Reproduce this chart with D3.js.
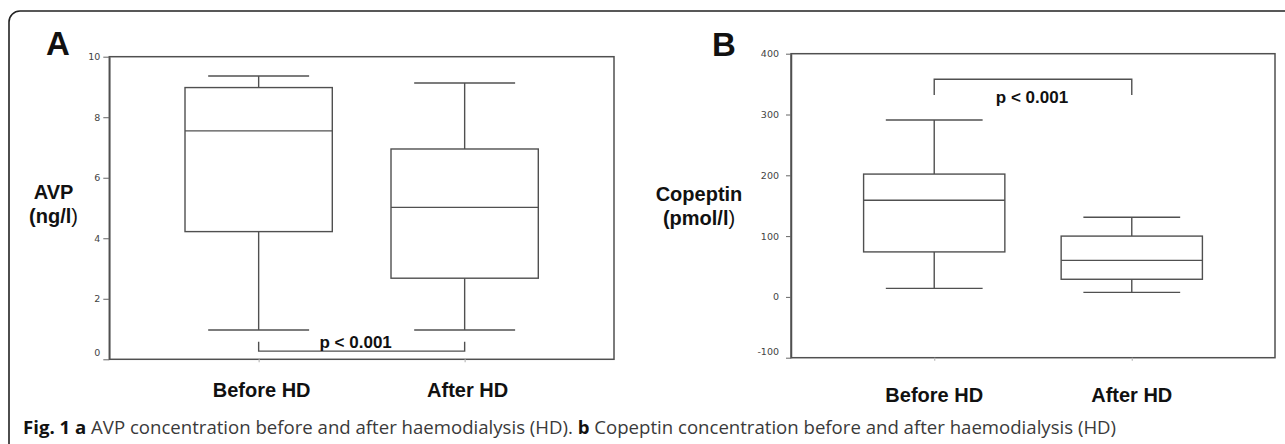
<!DOCTYPE html>
<html><head><meta charset="utf-8">
<script src="https://cdn.jsdelivr.net/npm/d3@7/dist/d3.min.js"></script>
<style>
html,body{margin:0;padding:0;background:#fff;}
svg{display:block;}
</style></head>
<body>
<svg id="chart" width="1285" height="444"></svg>
<script>
// ---- data ----
const categories = ["Before HD", "After HD"];
// Panel A: AVP (ng/l)
const avpMin    = [0.97, 0.97];
const avpQ1     = [4.22, 2.68];
const avpMedian = [7.55, 5.02];
const avpQ3     = [8.98, 6.95];
const avpMax    = [9.36, 9.13];
const avpTicks  = [0, 2, 4, 6, 8, 10];
const avpDomain = [0, 10];
const avpBracket = [0.58, 0.27];   // [tick end, bar level]
// Panel B: Copeptin (pmol/l)
const copMin    = [14, 7.5];
const copQ1     = [74, 29];
const copMedian = [159, 60];
const copQ3     = [202, 100];
const copMax    = [291, 131];
const copTicks  = [-100, 0, 100, 200, 300, 400];
const copDomain = [-100, 400];
const copBracket = [332, 358];
const pLabel = "p < 0.001";

const svg = d3.select("#chart");
const LINE = "#505050";

// outer rounded border
svg.append("path")
  .attr("d", "M9,444 V22 A11,11 0 0 1 20,11 H1290")
  .attr("fill", "none").attr("stroke", "#222").attr("stroke-width", 1.6);

function panel(cfg) {
  const x = d3.scalePoint().domain(categories).range([cfg.x0, cfg.x1]).padding(0.725);
  const y = d3.scaleLinear().domain(cfg.domain).range([cfg.y1, cfg.y0]);
  const step = x.step();
  const bw = step * 0.715, cw = step * 0.49;
  const g = svg.append("g");

  // frame
  g.append("rect").attr("x", cfg.x0).attr("y", cfg.y0)
    .attr("width", cfg.x1 - cfg.x0).attr("height", cfg.y1 - cfg.y0)
    .attr("fill", "none").attr("stroke", LINE).attr("stroke-width", 1.5);

  // y axis
  const ay = g.append("g").attr("transform", `translate(${cfg.x0},0)`)
    .call(d3.axisLeft(y).tickValues(cfg.ticks).tickFormat(d => String(d))
      .tickSizeInner(cfg.tickLen).tickSizeOuter(0).tickPadding(cfg.tickPad));
  ay.select(".domain").attr("stroke", LINE).attr("stroke-width", 1.5);
  ay.selectAll(".tick line").attr("stroke", "#666");
  ay.selectAll(".tick text").attr("font-family", "DejaVu Sans").attr("font-size", 9.5).attr("fill", "#444");
  ay.selectAll(".tick").filter(d => d === cfg.domain[0]).select("text").attr("dy", "-0.35em");

  // x axis ticks (small marks below)
  const ax = g.append("g").attr("transform", `translate(0,${cfg.y1})`)
    .call(d3.axisBottom(x).tickSizeInner(3).tickSizeOuter(0).tickFormat(""));
  ax.select(".domain").remove();
  ax.selectAll(".tick line").attr("stroke", "#bbb").attr("stroke-width", 1.2);

  // x labels
  g.selectAll(".xl").data(categories).enter().append("text")
    .attr("x", d => x(d) + cfg.labelDx).attr("y", cfg.labelY)
    .attr("text-anchor", "middle").attr("font-family", "Liberation Sans, Arial")
    .attr("font-weight", "bold").attr("font-size", 20).attr("fill", "#111").text(d => d);

  // boxes
  categories.forEach((c, i) => {
    const cx = x(c);
    const s = (sel) => sel.attr("stroke", LINE).attr("stroke-width", 1.4).attr("fill", "none");
    g.append("line").attr("x1", cx).attr("x2", cx).attr("y1", y(cfg.max[i])).attr("y2", y(cfg.q3[i])).call(s);
    g.append("line").attr("x1", cx).attr("x2", cx).attr("y1", y(cfg.q1[i])).attr("y2", y(cfg.min[i])).call(s);
    g.append("line").attr("x1", cx - cw/2).attr("x2", cx + cw/2).attr("y1", y(cfg.max[i])).attr("y2", y(cfg.max[i])).call(s);
    g.append("line").attr("x1", cx - cw/2).attr("x2", cx + cw/2).attr("y1", y(cfg.min[i])).attr("y2", y(cfg.min[i])).call(s);
    g.append("rect").attr("x", cx - bw/2).attr("y", y(cfg.q3[i]))
      .attr("width", bw).attr("height", y(cfg.q1[i]) - y(cfg.q3[i])).call(s);
    g.append("line").attr("x1", cx - bw/2).attr("x2", cx + bw/2).attr("y1", y(cfg.median[i])).attr("y2", y(cfg.median[i])).call(s);
  });

  // significance bracket
  const bx1 = x(categories[0]), bx2 = x(categories[1]);
  const yt = y(cfg.bracket[0]), yb = y(cfg.bracket[1]);
  g.append("path").attr("d", `M${bx1},${yt} V${yb} H${bx2} V${yt}`)
    .attr("fill", "none").attr("stroke", LINE).attr("stroke-width", 1.4);
  g.append("text").attr("x", (bx1 + bx2) / 2 + cfg.pDx).attr("y", yb + cfg.pDy)
    .attr("text-anchor", "middle").attr("font-family", "Liberation Sans, Arial")
    .attr("font-weight", "bold").attr("font-size", 17).attr("fill", "#111").text(pLabel);

  // panel letter
  g.append("text").attr("x", cfg.letterX).attr("y", cfg.letterY)
    .attr("font-family", "Liberation Sans, Arial").attr("font-weight", "bold")
    .attr("font-size", 33).attr("fill", "#111").text(cfg.letter);

  // y label
  const yl = g.append("text").attr("text-anchor", "middle")
    .attr("font-family", "Liberation Sans, Arial").attr("font-size", 20).attr("fill", "#111");
  yl.append("tspan").attr("x", cfg.ylabX).attr("y", cfg.ylabY).attr("font-weight", "bold").text(cfg.ylab1);
  const t2 = yl.append("tspan").attr("x", cfg.ylabX).attr("y", cfg.ylabY + 24);
  t2.append("tspan").attr("font-weight", "bold").text(cfg.ylab2);
  t2.append("tspan").attr("font-weight", "normal").text(")");
}

panel({
  x0: 109.3, x1: 614, y0: 56.7, y1: 359.3, domain: avpDomain, ticks: avpTicks,
  tickLen: 6, tickPad: 3, labelDx: 3, labelY: 397,
  min: avpMin, q1: avpQ1, median: avpMedian, q3: avpQ3, max: avpMax,
  bracket: avpBracket, pDx: -6, pDy: -3,
  letter: "A", letterX: 46, letterY: 55,
  ylab1: "AVP", ylab2: "(ng/l", ylabX: 53.5, ylabY: 199
});

panel({
  x0: 791, x1: 1275, y0: 53.7, y1: 357.7, domain: copDomain, ticks: copTicks,
  tickLen: 5, tickPad: 7, labelDx: 0, labelY: 401.5,
  min: copMin, q1: copQ1, median: copMedian, q3: copQ3, max: copMax,
  bracket: copBracket, pDx: -1, pDy: 24,
  letter: "B", letterX: 712, letterY: 56,
  ylab1: "Copeptin", ylab2: "(pmol/l", ylabX: 699, ylabY: 200.7
});

// caption
const cap = svg.append("text").attr("x", 23).attr("y", 434)
  .attr("font-family", "Open Sans").attr("font-size", 18.6).attr("fill", "#3a3a3a");
cap.append("tspan").attr("font-weight", "bold").attr("fill", "#111").text("Fig. 1 a");
cap.append("tspan").text(" AVP concentration before and after haemodialysis (HD). ");
cap.append("tspan").attr("font-weight", "bold").attr("fill", "#111").text("b");
cap.append("tspan").text(" Copeptin concentration before and after haemodialysis (HD)");
</script>
</body></html>
